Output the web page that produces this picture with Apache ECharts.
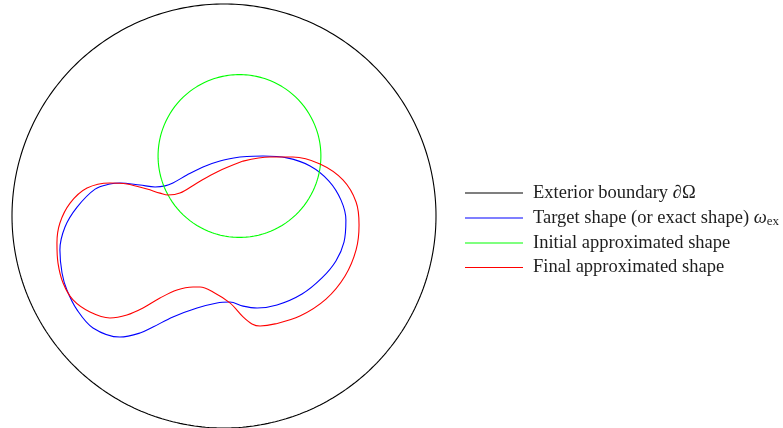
<!DOCTYPE html>
<html>
<head>
<meta charset="utf-8">
<script src="https://cdn.jsdelivr.net/npm/echarts@6/dist/echarts.min.js"></script>
<style>
  html, body { margin: 0; padding: 0; background: #fff; }
  #chart { width: 783px; height: 428px; }
</style>
</head>
<body>
<div id="chart"></div>
<script>
// Shapes in domain units (exterior boundary is the unit circle).
const exteriorCircle = { cx: 0, cy: 0, r: 1 };
const initialCircle = { cx: 0.073, cy: 0.283, r: 0.384 };

// Target shape outline (x, y), closed loop
const targetX = [0.075, 0.184, 0.297, 0.406, 0.495, 0.552, 0.575, 0.566, 0.528, 0.462, 0.368, 0.250, 0.156, 0.090, 0.028, -0.033, -0.127, -0.241, -0.335, -0.396, -0.491, -0.618, -0.693, -0.741, -0.764, -0.774, -0.750, -0.693, -0.608, -0.538, -0.491, -0.396, -0.325, -0.278, -0.241, -0.175, -0.099, -0.019];
const targetY = [0.278, 0.283, 0.274, 0.236, 0.165, 0.075, -0.019, -0.123, -0.212, -0.292, -0.368, -0.420, -0.434, -0.425, -0.406, -0.410, -0.434, -0.476, -0.524, -0.552, -0.571, -0.528, -0.443, -0.349, -0.269, -0.160, -0.052, 0.042, 0.127, 0.151, 0.156, 0.146, 0.137, 0.142, 0.156, 0.193, 0.231, 0.259];

// Final approximated shape outline (x, y), closed loop
const finalX = [0.090, 0.217, 0.325, 0.453, 0.561, 0.623, 0.637, 0.623, 0.571, 0.481, 0.358, 0.241, 0.170, 0.132, 0.090, 0.028, -0.052, -0.113, -0.146, -0.222, -0.302, -0.382, -0.458, -0.538, -0.632, -0.712, -0.759, -0.783, -0.788, -0.774, -0.726, -0.646, -0.538, -0.458, -0.363, -0.302, -0.264, -0.208, -0.127, -0.033];
const finalY = [0.259, 0.278, 0.278, 0.245, 0.170, 0.066, -0.042, -0.160, -0.283, -0.392, -0.472, -0.509, -0.519, -0.509, -0.476, -0.410, -0.358, -0.335, -0.335, -0.349, -0.387, -0.434, -0.467, -0.481, -0.453, -0.396, -0.316, -0.222, -0.127, -0.033, 0.061, 0.132, 0.156, 0.151, 0.127, 0.108, 0.099, 0.108, 0.156, 0.208];

const seriesNames = [
  'Exterior boundary ∂Ω',
  'Target shape (or exact shape) ω_ex',
  'Initial approximated shape',
  'Final approximated shape'
];
const seriesColors = ['#000000', '#0000ff', '#00ff00', '#ff0000'];

function circlePoints(c, n) {
  const pts = [];
  for (let i = 0; i <= n; i++) {
    const t = (i / n) * 2 * Math.PI;
    pts.push([c.cx + c.r * Math.cos(t), c.cy + c.r * Math.sin(t)]);
  }
  return pts;
}

function closedLoop(xs, ys) {
  const pts = xs.map((x, i) => [x, ys[i]]);
  pts.push(pts[0]);
  return pts;
}

const chart = echarts.init(document.getElementById('chart'), null, { renderer: 'canvas' });

const lineSeries = (i, data, smooth) => ({
  name: seriesNames[i], type: 'line', data, smooth, showSymbol: false, symbol: 'none',
  clip: false, silent: true, animation: false,
  lineStyle: { color: seriesColors[i], width: 1.1 },
  itemStyle: { color: seriesColors[i] }
});

const labelFont = 'Liberation Serif';
const textColor = '#1e1e1e';

chart.setOption({
  backgroundColor: '#fff',
  animation: false,
  color: seriesColors,
  grid: { left: 12, top: 4, width: 424, height: 424 },
  xAxis: { type: 'value', min: -1, max: 1, show: false },
  yAxis: { type: 'value', min: -1, max: 1, show: false },
  legend: {
    orient: 'vertical',
    left: 465,
    top: 183.5,
    padding: 0,
    itemWidth: 58,
    itemHeight: 1.2,
    itemGap: 5.5,
    selectedMode: false,
    data: seriesNames.map((name, i) => ({
      name,
      icon: 'rect',
      itemStyle: { color: seriesColors[i], borderWidth: 0 }
    })),
    formatter: function (name) {
      if (name === seriesNames[1]) {
        return '{t|Target shape (or exact shape) }{w|ω}{s|ex}';
      }
      return '{t|' + name + '}';
    },
    textStyle: {
      fontFamily: labelFont,
      fontSize: 18.5,
      color: textColor,
      lineHeight: 17,
      padding: [0, 0, 0, 5],
      rich: {
        t: { fontFamily: labelFont, fontSize: 18.5, color: textColor, lineHeight: 17 },
        w: { fontFamily: labelFont, fontSize: 18.5, fontStyle: 'italic', color: textColor, lineHeight: 17 },
        s: { fontFamily: labelFont, fontSize: 13, color: textColor, lineHeight: 17, padding: [7, 0, 0, 0] }
      }
    }
  },
  series: [
    lineSeries(0, circlePoints(exteriorCircle, 360), false),
    lineSeries(1, closedLoop(targetX, targetY), 0.35),
    lineSeries(2, circlePoints(initialCircle, 240), false),
    lineSeries(3, closedLoop(finalX, finalY), 0.35)
  ]
});
</script>
</body>
</html>
